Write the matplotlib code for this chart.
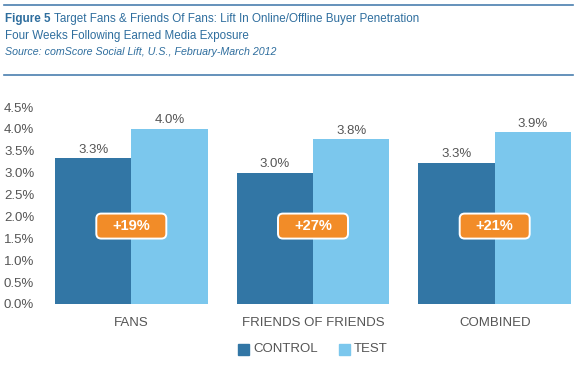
import numpy as np
import matplotlib.pyplot as plt
from matplotlib.patches import Rectangle, FancyBboxPatch
from matplotlib.lines import Line2D

plt.rcParams['font.family'] = ['Liberation Sans', 'DejaVu Sans']

# datos
categorias = ['FANS', 'FRIENDS OF FRIENDS', 'COMBINED']
control = [3.33, 3.0, 3.23]
test = [4.0, 3.76, 3.92]
control_txt = ['3.3%', '3.0%', '3.3%']
test_txt = ['4.0%', '3.8%', '3.9%']
lift = ['+19%', '+27%', '+21%']
yticks = [0.0, 0.5, 1.0, 1.5, 2.0, 2.5, 3.0, 3.5, 4.0, 4.5]

c_control = '#3276A5'
c_test = '#7BC7ED'
c_text = '#555555'
c_blue = '#2F6E9E'

W, H = 578, 365
fig = plt.figure(figsize=(W/100, H/100), dpi=100)
ax = fig.add_axes([55/W, 1 - 304/H, 516/W, 197/H])

x = np.arange(len(categorias))
w = 0.42
ax.bar(x - w/2, control, w, color=c_control, label='CONTROL')
ax.bar(x + w/2, test, w, color=c_test, label='TEST')

# tamaño del badge en unidades de datos
px_x = 516 / 2.84
px_y = 197 / 4.5
bw, bh = 70 / px_x, 25 / px_y
r = 5 / px_x
for i in range(len(x)):
    ax.text(x[i] - w/2, control[i] + 0.06, control_txt[i], ha='center', va='bottom',
            fontsize=9.5, color=c_text)
    ax.text(x[i] + w/2, test[i] + 0.06, test_txt[i], ha='center', va='bottom',
            fontsize=9.5, color=c_text)
    caja = FancyBboxPatch((x[i] - bw/2, 1.78 - bh/2), bw, bh,
                          boxstyle='round,pad=0,rounding_size=%f' % r,
                          mutation_aspect=px_x / px_y,
                          fc='#F28C28', ec='white', lw=1.4, zorder=3)
    ax.add_patch(caja)
    ax.text(x[i], 1.78, lift[i], ha='center', va='center', fontsize=10.5,
            fontweight='bold', color='white', zorder=4)

ax.set_xlim(-0.42, 2.42)
ax.set_ylim(0, 4.5)
ax.set_yticks(yticks)
ax.set_yticklabels(['%.1f%%' % v for v in yticks])
ax.set_xticks(x)
ax.set_xticklabels(categorias)
ax.tick_params(length=0, labelsize=9.5, labelcolor=c_text)
ax.tick_params(axis='x', pad=9)
for lbl in ax.get_yticklabels():
    lbl.set_horizontalalignment('left')
ax.yaxis.set_tick_params(pad=51 * 0.72)
for s in ax.spines.values():
    s.set_visible(False)

# encabezado
fig.add_artist(Line2D([4/W, 573/W], [1 - 5/H, 1 - 5/H], color='#4A7FAF', lw=1.2))
fig.add_artist(Line2D([4/W, 573/W], [1 - 75/H, 1 - 75/H], color='#4A7FAF', lw=1.2))
t1 = fig.text(5/W, 1 - 19/H, 'Figure 5', fontsize=8.4, fontweight='bold', color=c_blue, va='center')
fig.canvas.draw()
bb = t1.get_window_extent()
fig.text(bb.x1/W + 3/W, 1 - 19/H, 'Target Fans & Friends Of Fans: Lift In Online/Offline Buyer Penetration',
         fontsize=8.4, color=c_blue, va='center')
fig.text(5/W, 1 - 36/H, 'Four Weeks Following Earned Media Exposure', fontsize=8.4, color=c_blue, va='center')
fig.text(5/W, 1 - 52/H, 'Source: comScore Social Lift, U.S., February-March 2012', fontsize=7.7,
         style='italic', color=c_blue, va='center')

# leyenda
fig.add_artist(Rectangle((238/W, 1 - 355/H), 11/W, 11/H, color=c_control))
fig.text(253/W, 1 - 349.5/H, 'CONTROL', fontsize=9.5, color=c_text, va='center')
fig.add_artist(Rectangle((339/W, 1 - 355/H), 11/W, 11/H, color=c_test))
fig.text(354/W, 1 - 349.5/H, 'TEST', fontsize=9.5, color=c_text, va='center')

plt.savefig('out.png', dpi=100)
